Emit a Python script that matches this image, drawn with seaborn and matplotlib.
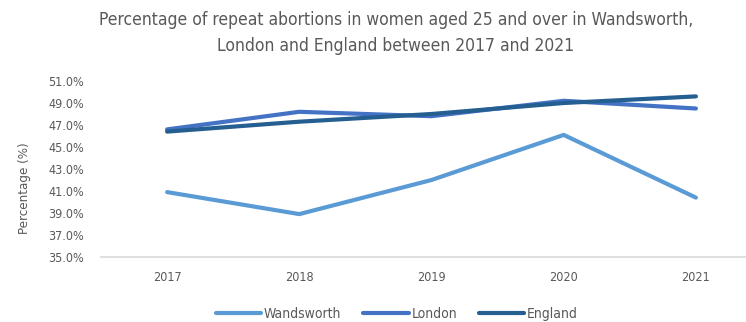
import pandas as pd
import matplotlib
matplotlib.use("Agg")
import matplotlib.pyplot as plt
import seaborn as sns

# values (%)
years = ["2017", "2018", "2019", "2020", "2021"]
wandsworth = [40.9, 38.9, 42.0, 46.1, 40.4]
london = [46.6, 48.2, 47.8, 49.2, 48.5]
england = [46.4, 47.3, 48.0, 49.0, 49.6]
areas = ["Wandsworth", "London", "England"]
colors = ["#5B9BD5", "#4472C4", "#255E91"]
y_ticks = [35, 37, 39, 41, 43, 45, 47, 49, 51]

sns.set_theme(style="white")
plt.rcParams["font.family"] = ["DejaVu Sans"]
plt.rcParams["font.stretch"] = "condensed"
text_color = "#595959"

rows = []
for area, vals in zip(areas, [wandsworth, london, england]):
    for i, v in enumerate(vals):
        rows.append({"area": area, "idx": i, "pct": v})
df = pd.DataFrame(rows)

fig = plt.figure(figsize=(7.46, 3.22), dpi=100)
ax = fig.add_axes([101 / 746, 65 / 322, 661 / 746, 176 / 322])

sns.lineplot(data=df, x="idx", y="pct", hue="area", hue_order=areas,
             palette=colors, linewidth=3, ax=ax, legend=False,
             solid_capstyle="round")

ax.set_xlim(-0.5, 4.5)
ax.set_ylim(35, 51)
ax.set_xticks(range(len(years)))
ax.set_xticklabels(years)
ax.set_yticks(y_ticks)
ax.set_yticklabels([f"{t:.1f}%" for t in y_ticks])
ax.tick_params(axis="both", length=0, labelsize=9, colors=text_color)
ax.tick_params(axis="y", pad=12)
ax.tick_params(axis="x", pad=10)
ax.set_xlabel("")
ax.set_ylabel("")
for side in ["top", "right", "left"]:
    ax.spines[side].set_visible(False)
ax.spines["bottom"].set_color("#D9D9D9")
ax.spines["bottom"].set_linewidth(1.2)

fig.text(25 / 746, (322 - 188) / 322, "Percentage (%)", rotation=90,
         ha="center", va="center", fontsize=9.5, color=text_color)

fig.text(396 / 746, 1 - 33 / 322,
         "Percentage of repeat abortions in women aged 25 and over in Wandsworth,\nLondon and England between 2017 and 2021",
         ha="center", va="center", fontsize=12.5, color=text_color, linespacing=1.6)

handles = [plt.Line2D([], [], color=c, linewidth=3) for c in colors]
fig.legend(handles, areas, loc="center", bbox_to_anchor=(397 / 746, 1 - 314 / 322),
           ncol=3, frameon=False, fontsize=10, handlelength=3.25,
           handletextpad=0.2, columnspacing=1.6, labelcolor=text_color)

fig.savefig("out.png", dpi=100)
